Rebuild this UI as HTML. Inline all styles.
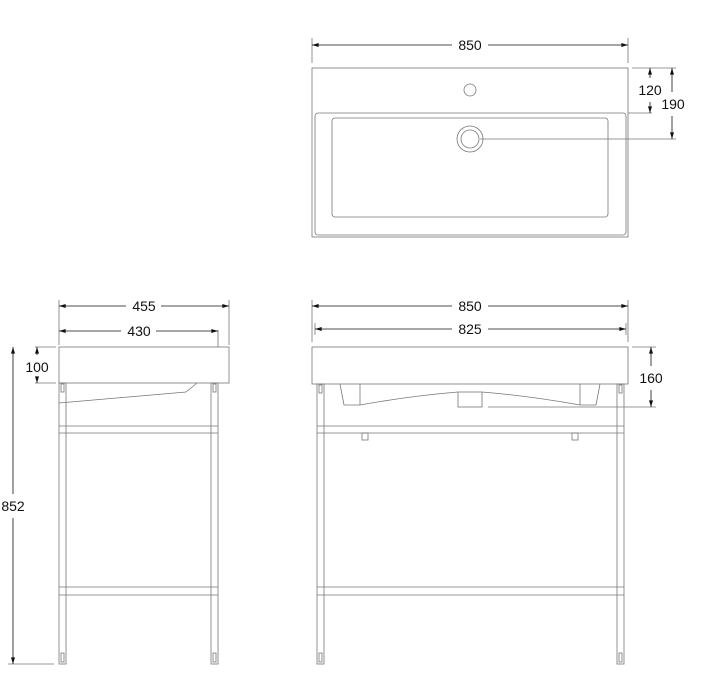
<!DOCTYPE html>
<html><head><style>body{margin:0;background:#fff}svg{display:block}text{font-family:"Liberation Sans",sans-serif;font-size:14px;fill:#111;text-anchor:middle}</style></head>
<body>
<svg width="706" height="678" viewBox="0 0 706 678" xmlns="http://www.w3.org/2000/svg">
<defs>
<marker id="a" viewBox="0 0 10 6" refX="10" refY="3" markerWidth="8" markerHeight="4" orient="auto-start-reverse" markerUnits="userSpaceOnUse"><path d="M0,0L10,3L0,6z" fill="#111"/></marker>
</defs>
<g stroke="#777" stroke-width="0.8" fill="none">
<!-- TOP VIEW -->
<rect x="312" y="68" width="316" height="169"/>
<rect x="315" y="113" width="311" height="122" rx="3"/>
<rect x="332" y="118" width="276" height="99" rx="3"/>
<circle cx="470" cy="90" r="6"/>
<circle cx="470" cy="139" r="13"/>
<circle cx="470" cy="139" r="9"/>
<line x1="312" y1="38" x2="312" y2="63"/><line x1="628" y1="38" x2="628" y2="63"/>
<line x1="632" y1="68" x2="676" y2="68"/><line x1="628" y1="113" x2="652" y2="113"/>
<line x1="480" y1="139" x2="676" y2="139"/>
<!-- SIDE VIEW -->
<rect x="59" y="347" width="170" height="36"/>
<line x1="59" y1="300" x2="59" y2="345"/><line x1="229" y1="300" x2="229" y2="345"/>
<line x1="218" y1="330" x2="218" y2="347"/>
<rect x="59" y="383" width="7" height="281"/>
<rect x="211" y="383" width="7" height="281"/>
<rect x="61" y="384" width="3" height="8"/><rect x="213" y="384" width="3" height="8"/>
<rect x="61" y="653" width="3" height="9"/><rect x="213" y="653" width="3" height="9"/>
<path d="M59,403L186,392L197,383"/>
<line x1="59" y1="426" x2="218" y2="426"/><line x1="59" y1="433" x2="218" y2="433"/>
<line x1="59" y1="587" x2="218" y2="587"/><line x1="59" y1="595" x2="218" y2="595"/>
<line x1="35" y1="347" x2="56" y2="347"/><line x1="35" y1="383" x2="56" y2="383"/>
<line x1="8" y1="664" x2="54" y2="664"/>
<!-- FRONT VIEW -->
<rect x="312" y="347" width="316" height="37"/>
<line x1="312" y1="300" x2="312" y2="342"/><line x1="628" y1="300" x2="628" y2="342"/>
<line x1="315" y1="323" x2="315" y2="335"/><line x1="626" y1="323" x2="626" y2="335"/>
<rect x="317" y="384" width="7" height="280"/>
<rect x="617" y="384" width="7" height="280"/>
<rect x="319" y="385" width="3" height="8"/><rect x="619" y="385" width="3" height="8"/>
<rect x="319" y="653" width="3" height="9"/><rect x="619" y="653" width="3" height="9"/>
<path d="M340,384L344,405L360,405L360,384"/>
<path d="M360,405Q410,396 458,392"/>
<rect x="458" y="392" width="24" height="15"/>
<path d="M482,392Q530,396 580,405"/>
<path d="M600,384L596,405L580,405L580,384"/>
<line x1="317" y1="426" x2="624" y2="426"/><line x1="317" y1="433" x2="624" y2="433"/>
<line x1="317" y1="587" x2="624" y2="587"/><line x1="317" y1="595" x2="624" y2="595"/>
<rect x="362" y="433" width="6" height="7"/><rect x="572" y="433" width="6" height="7"/>
<line x1="632" y1="347" x2="656" y2="347"/><line x1="488" y1="407" x2="656" y2="407"/>
</g>
<g stroke="#111" stroke-width="0.8" fill="none">
<line x1="312" y1="45" x2="452" y2="45" marker-start="url(#a)"/><line x1="488" y1="45" x2="628" y2="45" marker-end="url(#a)"/>
<line x1="650" y1="68" x2="650" y2="78" marker-start="url(#a)"/><line x1="650" y1="102" x2="650" y2="113" marker-end="url(#a)"/>
<line x1="672" y1="68" x2="672" y2="92" marker-start="url(#a)"/><line x1="672" y1="116" x2="672" y2="139" marker-end="url(#a)"/>
<line x1="59" y1="306" x2="126" y2="306" marker-start="url(#a)"/><line x1="161" y1="306" x2="229" y2="306" marker-end="url(#a)"/>
<line x1="59" y1="331" x2="121" y2="331" marker-start="url(#a)"/><line x1="156" y1="331" x2="218" y2="331" marker-end="url(#a)"/>
<line x1="37" y1="347" x2="37" y2="355" marker-start="url(#a)"/><line x1="37" y1="377" x2="37" y2="383" marker-end="url(#a)"/>
<line x1="13" y1="347" x2="13" y2="494" marker-start="url(#a)"/><line x1="13" y1="518" x2="13" y2="664" marker-end="url(#a)"/>
<line x1="312" y1="306" x2="452" y2="306" marker-start="url(#a)"/><line x1="488" y1="306" x2="628" y2="306" marker-end="url(#a)"/>
<line x1="315" y1="329" x2="452" y2="329" marker-start="url(#a)"/><line x1="488" y1="329" x2="626" y2="329" marker-end="url(#a)"/>
<line x1="651" y1="347" x2="651" y2="366" marker-start="url(#a)"/><line x1="651" y1="390" x2="651" y2="407" marker-end="url(#a)"/>
</g>
<text x="470" y="50">850</text>
<text x="650" y="95">120</text>
<text x="673" y="109">190</text>
<text x="144" y="311">455</text>
<text x="139" y="336">430</text>
<text x="37" y="372">100</text>
<text x="13" y="511">852</text>
<text x="470" y="311">850</text>
<text x="470" y="334">825</text>
<text x="651" y="383">160</text>
</svg>
</body></html>
